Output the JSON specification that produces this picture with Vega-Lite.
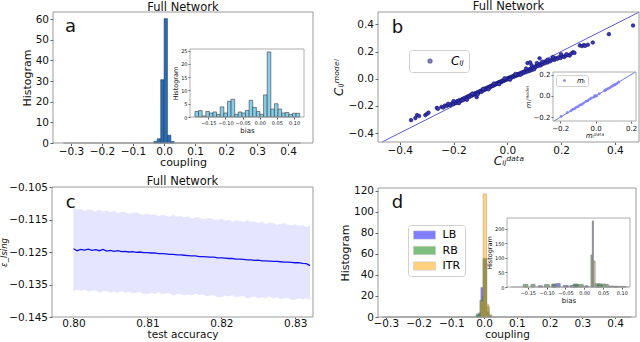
{
"$schema": "https://vega.github.io/schema/vega-lite/v6.json",
"width": 640, "height": 342, "autosize": {"type": "none"}, "padding": 0,
"config": {"font": "DejaVu Sans", "view": {"stroke": null},
  "axis": {"domain": false, "grid": false, "labelFlush": false, "labelOverlap": false, "labelBound": false, "tickColor": "#333", "tickWidth": 0.8, "labelColor": "#111", "titleColor": "#111", "titleFontWeight": "normal", "labelFont": "DejaVu Sans", "titleFont": "DejaVu Sans"},
  "legend": {"labelFont": "DejaVu Sans"}},
"datasets": {
"a_main": [{"x0":-0.033,"x1":-0.022,"n":0.8},{"x0":-0.022,"x1":-0.011,"n":2.1},{"x0":-0.011,"x1":0.0,"n":30.7},{"x0":0.0,"x1":0.011,"n":60.3},{"x0":0.011,"x1":0.022,"n":3.8},{"x0":0.022,"x1":0.033,"n":0.7}],
"a_bias": [{"b0":-0.1890,"b1":-0.1785,"n":2.1},{"b0":-0.1785,"b1":-0.1679,"n":2.4},{"b0":-0.1679,"b1":-0.1574,"n":0.4},{"b0":-0.1574,"b1":-0.1469,"n":2.1},{"b0":-0.1469,"b1":-0.1363,"n":1.5},{"b0":-0.1363,"b1":-0.1258,"n":1.9},{"b0":-0.1258,"b1":-0.1153,"n":1.0},{"b0":-0.1153,"b1":-0.1047,"n":3.8},{"b0":-0.1047,"b1":-0.0942,"n":1.5},{"b0":-0.0942,"b1":-0.0837,"n":5.9},{"b0":-0.0837,"b1":-0.0731,"n":6.7},{"b0":-0.0731,"b1":-0.0626,"n":1.0},{"b0":-0.0626,"b1":-0.0521,"n":1.9},{"b0":-0.0521,"b1":-0.0415,"n":1.5},{"b0":-0.0415,"b1":-0.0310,"n":2.5},{"b0":-0.0310,"b1":-0.0205,"n":6.3},{"b0":-0.0205,"b1":-0.0099,"n":3.6},{"b0":-0.0099,"b1":0.0006,"n":2.1},{"b0":0.0006,"b1":0.0111,"n":1.0},{"b0":0.0111,"b1":0.0217,"n":8.3},{"b0":0.0217,"b1":0.0322,"n":24.5},{"b0":0.0322,"b1":0.0427,"n":3.0},{"b0":0.0427,"b1":0.0533,"n":5.0},{"b0":0.0533,"b1":0.0638,"n":3.0},{"b0":0.0638,"b1":0.0743,"n":1.5},{"b0":0.0743,"b1":0.0849,"n":1.7},{"b0":0.0849,"b1":0.0954,"n":1.0},{"b0":0.0954,"b1":0.1059,"n":1.4},{"b0":0.1059,"b1":0.1165,"n":1.4}],
"b_diag": [{"v":-0.466},{"v":0.491}],
"b_c": [{"d":-0.358,"m":-0.305},{"d":-0.342,"m":-0.29},{"d":-0.336,"m":-0.268},{"d":-0.328,"m":-0.275},{"d":-0.305,"m":-0.268},{"d":-0.298,"m":-0.258},{"d":-0.293,"m":-0.25},{"d":-0.262,"m":-0.215},{"d":-0.258,"m":-0.222},{"d":-0.245,"m":-0.208},{"d":-0.238,"m":-0.212},{"d":-0.232,"m":-0.198},{"d":-0.225,"m":-0.2},{"d":-0.218,"m":-0.19},{"d":-0.212,"m":-0.196},{"d":-0.205,"m":-0.18},{"d":-0.2,"m":-0.186},{"d":-0.196,"m":-0.172},{"d":-0.19,"m":-0.178},{"d":-0.186,"m":-0.165},{"d":-0.182,"m":-0.17},{"d":-0.178,"m":-0.158},{"d":-0.172,"m":-0.163},{"d":-0.168,"m":-0.15},{"d":-0.165,"m":-0.158},{"d":-0.16,"m":-0.142},{"d":-0.155,"m":-0.15},{"d":-0.152,"m":-0.136},{"d":-0.148,"m":-0.14},{"d":-0.145,"m":-0.128},{"d":-0.14,"m":-0.133},{"d":-0.137,"m":-0.12},{"d":-0.132,"m":-0.125},{"d":-0.128,"m":-0.113},{"d":-0.125,"m":-0.118},{"d":-0.121,"m":-0.108},{"d":-0.118,"m":-0.112},{"d":-0.114,"m":-0.136},{"d":-0.112,"m":-0.1},{"d":-0.108,"m":-0.105},{"d":-0.104,"m":-0.094},{"d":-0.1,"m":-0.09},{"d":-0.097,"m":-0.098},{"d":-0.093,"m":-0.084},{"d":-0.09,"m":-0.088},{"d":-0.086,"m":-0.076},{"d":-0.083,"m":-0.081},{"d":-0.08,"m":-0.07},{"d":-0.076,"m":-0.075},{"d":-0.073,"m":-0.064},{"d":-0.07,"m":-0.068},{"d":-0.066,"m":-0.058},{"d":-0.063,"m":-0.062},{"d":-0.06,"m":-0.052},{"d":-0.056,"m":-0.055},{"d":-0.053,"m":-0.046},{"d":-0.05,"m":-0.05},{"d":-0.047,"m":-0.04},{"d":-0.044,"m":-0.043},{"d":-0.041,"m":-0.035},{"d":-0.038,"m":-0.038},{"d":-0.035,"m":-0.03},{"d":-0.032,"m":-0.033},{"d":-0.03,"m":-0.025},{"d":-0.027,"m":-0.028},{"d":-0.024,"m":-0.02},{"d":-0.021,"m":-0.023},{"d":-0.018,"m":-0.015},{"d":-0.015,"m":-0.018},{"d":-0.012,"m":-0.01},{"d":-0.01,"m":-0.012},{"d":-0.007,"m":-0.005},{"d":-0.004,"m":-0.008},{"d":-0.002,"m":0.0},{"d":0.0,"m":-0.003},{"d":0.003,"m":0.004},{"d":0.005,"m":0.0},{"d":0.008,"m":0.008},{"d":0.01,"m":0.004},{"d":0.013,"m":0.012},{"d":0.016,"m":0.008},{"d":0.019,"m":0.017},{"d":0.022,"m":0.013},{"d":0.025,"m":0.022},{"d":0.028,"m":0.018},{"d":0.031,"m":0.027},{"d":0.034,"m":0.022},{"d":0.037,"m":0.032},{"d":0.04,"m":0.027},{"d":0.043,"m":0.036},{"d":0.046,"m":0.031},{"d":0.05,"m":0.042},{"d":0.053,"m":0.036},{"d":0.057,"m":0.048},{"d":0.06,"m":0.042},{"d":0.064,"m":0.054},{"d":0.068,"m":0.047},{"d":0.072,"m":0.06},{"d":0.076,"m":0.053},{"d":0.08,"m":0.066},{"d":0.084,"m":0.058},{"d":0.088,"m":0.072},{"d":0.092,"m":0.064},{"d":0.096,"m":0.078},{"d":0.1,"m":0.07},{"d":0.104,"m":0.085},{"d":0.108,"m":0.09},{"d":0.112,"m":0.1},{"d":0.115,"m":0.094},{"d":0.12,"m":0.105},{"d":0.124,"m":0.098},{"d":0.128,"m":0.112},{"d":0.132,"m":0.108},{"d":0.136,"m":0.12},{"d":0.14,"m":0.114},{"d":0.145,"m":0.128},{"d":0.15,"m":0.12},{"d":0.155,"m":0.135},{"d":0.16,"m":0.128},{"d":0.165,"m":0.14},{"d":0.17,"m":0.148},{"d":0.175,"m":0.138},{"d":0.18,"m":0.152},{"d":0.186,"m":0.146},{"d":0.192,"m":0.158},{"d":0.198,"m":0.152},{"d":0.205,"m":0.165},{"d":0.212,"m":0.16},{"d":0.218,"m":0.17},{"d":0.225,"m":0.175},{"d":0.232,"m":0.17},{"d":0.238,"m":0.185},{"d":0.245,"m":0.195},{"d":0.25,"m":0.19},{"d":0.27,"m":0.245},{"d":0.278,"m":0.24},{"d":0.285,"m":0.248},{"d":0.29,"m":0.242},{"d":0.3,"m":0.25},{"d":0.318,"m":0.266},{"d":0.378,"m":0.328},{"d":0.468,"m":0.392},{"d":-0.15,"m":-0.155},{"d":-0.13,"m":-0.11},{"d":-0.11,"m":-0.115},{"d":-0.09,"m":-0.075},{"d":-0.07,"m":-0.078},{"d":-0.05,"m":-0.035},{"d":-0.03,"m":-0.04},{"d":-0.01,"m":0.003},{"d":0.01,"m":-0.008},{"d":0.03,"m":0.035},{"d":0.05,"m":0.03},{"d":0.07,"m":0.075},{"d":0.09,"m":0.1},{"d":0.11,"m":0.115},{"d":0.13,"m":0.125},{"d":0.15,"m":0.14},{"d":0.17,"m":0.16},{"d":0.2,"m":0.18},{"d":0.22,"m":0.18},{"d":-0.18,"m":-0.18},{"d":-0.2,"m":-0.165},{"d":-0.22,"m":-0.185},{"d":0.075,"m":0.115},{"d":0.085,"m":0.12},{"d":0.12,"m":0.15}],
"b_mdiag": [{"v":-0.235},{"v":0.225}],
"b_m": [{"d":-0.195,"m":-0.19},{"d":-0.16,"m":-0.155},{"d":-0.14,"m":-0.138},{"d":-0.13,"m":-0.125},{"d":-0.12,"m":-0.12},{"d":-0.11,"m":-0.105},{"d":-0.1,"m":-0.098},{"d":-0.09,"m":-0.085},{"d":-0.08,"m":-0.08},{"d":-0.07,"m":-0.068},{"d":-0.055,"m":-0.05},{"d":-0.045,"m":-0.045},{"d":-0.035,"m":-0.03},{"d":-0.025,"m":-0.02},{"d":-0.01,"m":-0.01},{"d":0.0,"m":0.0},{"d":0.005,"m":0.003},{"d":-0.005,"m":0.002},{"d":0.02,"m":0.02},{"d":0.05,"m":0.05},{"d":0.055,"m":0.055},{"d":0.06,"m":0.06},{"d":0.07,"m":0.07},{"d":0.08,"m":0.078},{"d":0.09,"m":0.09},{"d":0.1,"m":0.1},{"d":0.105,"m":0.102},{"d":0.11,"m":0.108},{"d":0.12,"m":0.118},{"d":0.13,"m":0.13}],
"c": [{"acc":0.8000,"e":-0.1240,"hi":-0.1114,"lo":-0.1371},{"acc":0.8005,"e":-0.1246,"hi":-0.1120,"lo":-0.1366},{"acc":0.8010,"e":-0.1242,"hi":-0.1118,"lo":-0.1370},{"acc":0.8015,"e":-0.1244,"hi":-0.1124,"lo":-0.1365},{"acc":0.8020,"e":-0.1241,"hi":-0.1118,"lo":-0.1372},{"acc":0.8025,"e":-0.1245,"hi":-0.1121,"lo":-0.1369},{"acc":0.8030,"e":-0.1243,"hi":-0.1125,"lo":-0.1368},{"acc":0.8035,"e":-0.1246,"hi":-0.1119,"lo":-0.1375},{"acc":0.8040,"e":-0.1242,"hi":-0.1125,"lo":-0.1371},{"acc":0.8045,"e":-0.1247,"hi":-0.1122,"lo":-0.1370},{"acc":0.8050,"e":-0.1245,"hi":-0.1127,"lo":-0.1375},{"acc":0.8055,"e":-0.1248,"hi":-0.1123,"lo":-0.1372},{"acc":0.8060,"e":-0.1246,"hi":-0.1131,"lo":-0.1375},{"acc":0.8065,"e":-0.1249,"hi":-0.1127,"lo":-0.1370},{"acc":0.8070,"e":-0.1248,"hi":-0.1127,"lo":-0.1375},{"acc":0.8075,"e":-0.1250,"hi":-0.1132,"lo":-0.1372},{"acc":0.8080,"e":-0.1249,"hi":-0.1130,"lo":-0.1377},{"acc":0.8085,"e":-0.1251,"hi":-0.1128,"lo":-0.1375},{"acc":0.8090,"e":-0.1250,"hi":-0.1133,"lo":-0.1374},{"acc":0.8095,"e":-0.1252,"hi":-0.1135,"lo":-0.1380},{"acc":0.8100,"e":-0.1252,"hi":-0.1131,"lo":-0.1380},{"acc":0.8105,"e":-0.1253,"hi":-0.1136,"lo":-0.1375},{"acc":0.8110,"e":-0.1253,"hi":-0.1134,"lo":-0.1379},{"acc":0.8115,"e":-0.1255,"hi":-0.1140,"lo":-0.1374},{"acc":0.8120,"e":-0.1255,"hi":-0.1135,"lo":-0.1381},{"acc":0.8125,"e":-0.1256,"hi":-0.1138,"lo":-0.1378},{"acc":0.8130,"e":-0.1257,"hi":-0.1142,"lo":-0.1376},{"acc":0.8135,"e":-0.1257,"hi":-0.1135,"lo":-0.1384},{"acc":0.8140,"e":-0.1259,"hi":-0.1141,"lo":-0.1380},{"acc":0.8145,"e":-0.1259,"hi":-0.1139,"lo":-0.1379},{"acc":0.8150,"e":-0.1260,"hi":-0.1144,"lo":-0.1384},{"acc":0.8155,"e":-0.1261,"hi":-0.1140,"lo":-0.1381},{"acc":0.8160,"e":-0.1262,"hi":-0.1148,"lo":-0.1384},{"acc":0.8165,"e":-0.1262,"hi":-0.1143,"lo":-0.1378},{"acc":0.8170,"e":-0.1264,"hi":-0.1143,"lo":-0.1384},{"acc":0.8175,"e":-0.1264,"hi":-0.1149,"lo":-0.1380},{"acc":0.8180,"e":-0.1265,"hi":-0.1147,"lo":-0.1386},{"acc":0.8185,"e":-0.1266,"hi":-0.1145,"lo":-0.1384},{"acc":0.8190,"e":-0.1266,"hi":-0.1150,"lo":-0.1383},{"acc":0.8195,"e":-0.1268,"hi":-0.1151,"lo":-0.1389},{"acc":0.8200,"e":-0.1268,"hi":-0.1147,"lo":-0.1389},{"acc":0.8205,"e":-0.1269,"hi":-0.1153,"lo":-0.1384},{"acc":0.8210,"e":-0.1270,"hi":-0.1151,"lo":-0.1387},{"acc":0.8215,"e":-0.1270,"hi":-0.1157,"lo":-0.1383},{"acc":0.8220,"e":-0.1272,"hi":-0.1152,"lo":-0.1389},{"acc":0.8225,"e":-0.1272,"hi":-0.1154,"lo":-0.1387},{"acc":0.8230,"e":-0.1273,"hi":-0.1158,"lo":-0.1385},{"acc":0.8235,"e":-0.1274,"hi":-0.1152,"lo":-0.1393},{"acc":0.8240,"e":-0.1274,"hi":-0.1158,"lo":-0.1389},{"acc":0.8245,"e":-0.1276,"hi":-0.1156,"lo":-0.1387},{"acc":0.8250,"e":-0.1275,"hi":-0.1161,"lo":-0.1393},{"acc":0.8255,"e":-0.1277,"hi":-0.1156,"lo":-0.1389},{"acc":0.8260,"e":-0.1277,"hi":-0.1164,"lo":-0.1393},{"acc":0.8265,"e":-0.1278,"hi":-0.1160,"lo":-0.1387},{"acc":0.8270,"e":-0.1279,"hi":-0.1160,"lo":-0.1393},{"acc":0.8275,"e":-0.1279,"hi":-0.1166,"lo":-0.1389},{"acc":0.8280,"e":-0.1280,"hi":-0.1164,"lo":-0.1395},{"acc":0.8285,"e":-0.1281,"hi":-0.1161,"lo":-0.1393},{"acc":0.8290,"e":-0.1281,"hi":-0.1166,"lo":-0.1391},{"acc":0.8295,"e":-0.1282,"hi":-0.1168,"lo":-0.1398},{"acc":0.8300,"e":-0.1283,"hi":-0.1164,"lo":-0.1397},{"acc":0.8305,"e":-0.1283,"hi":-0.1170,"lo":-0.1393},{"acc":0.8310,"e":-0.1285,"hi":-0.1167,"lo":-0.1396},{"acc":0.8315,"e":-0.1286,"hi":-0.1173,"lo":-0.1392},{"acc":0.8320,"e":-0.1292,"hi":-0.1168,"lo":-0.1398}],
"d_main": [{"s":"LB","x0":-0.024,"x1":-0.017,"n":1.5},{"s":"LB","x0":-0.017,"x1":-0.010,"n":4},{"s":"LB","x0":-0.010,"x1":-0.003,"n":28},{"s":"LB","x0":-0.003,"x1":0.008,"n":55},{"s":"LB","x0":0.008,"x1":0.015,"n":5},{"s":"LB","x0":0.015,"x1":0.022,"n":1},
  {"s":"RB","x0":-0.024,"x1":-0.013,"n":3},{"s":"RB","x0":-0.013,"x1":-0.006,"n":16},{"s":"RB","x0":-0.006,"x1":-0.003,"n":20},{"s":"RB","x0":-0.003,"x1":0.008,"n":56},{"s":"RB","x0":0.008,"x1":0.016,"n":10},{"s":"RB","x0":0.016,"x1":0.024,"n":2},
  {"s":"ITR","x0":-0.010,"x1":-0.003,"n":15},{"s":"ITR","x0":-0.003,"x1":0.008,"n":117},{"s":"ITR","x0":0.008,"x1":0.015,"n":12},{"s":"ITR","x0":0.015,"x1":0.020,"n":2}],
"d_bias": [{"s":"LB","x0":0.0216,"x1":0.0243,"n":227},{"s":"LB","x0":-0.122,"x1":-0.111,"n":4},{"s":"LB","x0":-0.086,"x1":-0.075,"n":9},{"s":"LB","x0":-0.075,"x1":-0.064,"n":11.5},{"s":"LB","x0":-0.0555,"x1":-0.0425,"n":5},{"s":"LB","x0":-0.038,"x1":-0.029,"n":5},{"s":"LB","x0":-0.029,"x1":-0.016,"n":8},{"s":"LB","x0":0.0017,"x1":0.0106,"n":4},{"s":"LB","x0":0.035,"x1":0.048,"n":8},{"s":"LB","x0":0.064,"x1":0.08,"n":3},{"s":"LB","x0":0.08,"x1":0.1,"n":2},
  {"s":"RB","x0":0.0181,"x1":0.0216,"n":110},{"s":"RB","x0":-0.162,"x1":-0.150,"n":9},{"s":"RB","x0":-0.1415,"x1":-0.131,"n":9},{"s":"RB","x0":-0.106,"x1":-0.093,"n":8},{"s":"RB","x0":-0.086,"x1":-0.075,"n":10},{"s":"RB","x0":-0.029,"x1":-0.016,"n":10},{"s":"RB","x0":-0.016,"x1":-0.0025,"n":8},{"s":"RB","x0":0.0287,"x1":0.042,"n":11},{"s":"RB","x0":0.042,"x1":0.056,"n":10},{"s":"RB","x0":0.056,"x1":0.064,"n":9},{"s":"RB","x0":0.08,"x1":0.09,"n":2},{"s":"RB","x0":0.1,"x1":0.11,"n":2},
  {"s":"ITR","x0":0.0243,"x1":0.0287,"n":89}]
},
"layer": [
 {"layer": [
  {"data": {"values": [{}]}, "mark": {"type": "rule", "color": "#aaaaaa", "strokeWidth": 1.5}, "encoding": {"x": {"datum": -0.325}, "x2": {"datum": 0.44}, "y": {"datum": 0}}},
  {"data": {"name": "a_main"}, "mark": {"type": "bar", "fill": "#2b6cb0", "stroke": "#1b3a60", "strokeWidth": 0.5},
   "encoding": {
    "x": {"field": "x0", "type": "quantitative", "scale": {"domain": [-0.358, 0.48], "range": [53, 313], "nice": false, "zero": false}, "axis": {"orient": "bottom", "offset": -199, "values": [-0.3,-0.2,-0.1,0,0.1,0.2,0.3,0.4], "format": ".1f", "title": "coupling", "labelFontSize": 10.5, "titleFontSize": 11, "tickSize": 2.5, "labelPadding": 0.5, "titlePadding": 0}},
    "x2": {"field": "x1"},
    "y": {"field": "n", "type": "quantitative", "scale": {"domain": [0, 63.5], "range": [143, 12], "nice": false, "zero": false}, "axis": {"orient": "left", "offset": -53, "values": [0,10,20,30,40,50,60], "format": "d", "title": "Histogram", "labelFontSize": 10.5, "titleFontSize": 11, "tickSize": 3, "labelPadding": 1.5, "titlePadding": 3}},
    "y2": {"datum": 0}}},
  {"data": {"values": [{}]}, "mark": {"type": "rect", "fillOpacity": 0, "stroke": "#9a9a9a", "strokeWidth": 1}, "encoding": {"x": {"datum": -0.358}, "x2": {"datum": 0.48}, "y": {"datum": 0}, "y2": {"datum": 63.5}}},
  {"data": {"values": [{}]}, "mark": {"type": "text", "text": "Full Network", "fontSize": 11.5, "baseline": "alphabetic", "align": "center", "color": "#111"}, "encoding": {"x": {"datum": 0.061}, "y": {"datum": 64.2}}},
  {"data": {"values": [{}]}, "mark": {"type": "text", "text": "a", "fontSize": 18, "baseline": "alphabetic", "align": "left", "color": "#111"}, "encoding": {"x": {"datum": -0.3193}, "y": {"datum": 53.7}}}
 ]},
 {"layer": [
  {"data": {"name": "a_bias"}, "mark": {"type": "bar", "fill": "#87ceeb", "stroke": "#3a3a3a", "strokeWidth": 0.6},
   "encoding": {
    "x": {"field": "b0", "type": "quantitative", "scale": {"domain": [-0.2034, 0.129], "range": [190, 304], "nice": false, "zero": false}, "axis": {"orient": "bottom", "offset": -225, "values": [-0.15,-0.1,-0.05,0,0.05,0.1], "format": ".2f", "title": "bias", "labelFontSize": 5, "titleFontSize": 7, "tickSize": 2, "labelPadding": 1, "titlePadding": 1}},
    "x2": {"field": "b1"},
    "y": {"field": "n", "type": "quantitative", "scale": {"domain": [0, 25.6], "range": [117, 49], "nice": false, "zero": false}, "axis": {"orient": "left", "offset": -190, "values": [0,5,10,15,20,25], "format": "d", "title": "Histogram", "labelFontSize": 5, "titleFontSize": 6.5, "tickSize": 2, "labelPadding": 1, "titlePadding": 2}},
    "y2": {"datum": 0}}},
  {"data": {"values": [{}]}, "mark": {"type": "rect", "fillOpacity": 0, "stroke": "#9a9a9a", "strokeWidth": 0.8}, "encoding": {"x": {"datum": -0.2034}, "x2": {"datum": 0.129}, "y": {"datum": 0}, "y2": {"datum": 25.6}}}
 ]},
 {"layer": [
  {"data": {"name": "b_diag"}, "mark": {"type": "line", "color": "#5a5ad6", "strokeWidth": 1},
   "encoding": {"x": {"field": "v", "type": "quantitative", "scale": {"domain": [-0.481, 0.49], "range": [378, 639], "nice": false, "zero": false}}, "y": {"field": "v", "type": "quantitative", "scale": {"domain": [-0.466, 0.491], "range": [142, 12], "nice": false, "zero": false}}}},
  {"data": {"name": "b_c"}, "mark": {"type": "circle", "size": 13, "stroke": "#10106a", "strokeWidth": 0.6, "opacity": 1},
   "encoding": {
    "x": {"field": "d", "type": "quantitative", "scale": {"domain": [-0.481, 0.49], "range": [378, 639], "nice": false, "zero": false}, "axis": {"orient": "bottom", "offset": -200, "values": [-0.4,-0.2,0,0.2,0.4], "format": ".1f", "title": "Cᵢⱼᵈᵃᵗᵃ", "titleFontStyle": "italic", "labelFontSize": 10.5, "titleFontSize": 12, "tickSize": 2.5, "labelPadding": 0.5, "titlePadding": 0}},
    "y": {"field": "m", "type": "quantitative", "scale": {"domain": [-0.466, 0.491], "range": [142, 12], "nice": false, "zero": false}, "axis": {"orient": "left", "offset": -378, "values": [-0.4,-0.2,0,0.2,0.4], "format": ".1f", "title": "Cᵢⱼᵐᵒᵈᵉˡ", "titleFontStyle": "italic", "labelFontSize": 10.5, "titleFontSize": 12, "tickSize": 3, "labelPadding": 1.5, "titlePadding": 3}},
    "color": {"datum": "Cᵢⱼ", "scale": {"range": ["#3838b8"]}, "legend": {"orient": "none", "legendX": 409, "legendY": 50, "title": null, "padding": 5, "fillColor": "white", "strokeColor": "#d0d0d0", "cornerRadius": 3, "symbolType": "circle", "symbolSize": 14, "symbolOpacity": 0.6, "symbolOffset": 10, "labelFontStyle": "italic", "labelFontSize": 12, "labelOffset": 15}}}},
  {"data": {"values": [{}]}, "mark": {"type": "rect", "fillOpacity": 0, "stroke": "#9a9a9a", "strokeWidth": 1}, "encoding": {"x": {"datum": -0.481}, "x2": {"datum": 0.49}, "y": {"datum": -0.466}, "y2": {"datum": 0.491}}},
  {"data": {"values": [{}]}, "mark": {"type": "text", "text": "Full Network", "fontSize": 11.5, "baseline": "alphabetic", "align": "center", "color": "#111"}, "encoding": {"x": {"datum": 0.0045}, "y": {"datum": 0.503}}},
  {"data": {"values": [{}]}, "mark": {"type": "text", "text": "b", "fontSize": 18, "baseline": "alphabetic", "align": "left", "color": "#111"}, "encoding": {"x": {"datum": -0.43}, "y": {"datum": 0.334}}}
 ]},
 {"layer": [
  {"data": {"name": "b_mdiag"}, "mark": {"type": "line", "color": "#6a80e6", "strokeWidth": 1},
   "encoding": {"x": {"field": "v", "type": "quantitative", "scale": {"domain": [-0.241, 0.228], "range": [553, 636], "nice": false, "zero": false}}, "y": {"field": "v", "type": "quantitative", "scale": {"domain": [-0.235, 0.225], "range": [121, 72], "nice": false, "zero": false}}}},
  {"data": {"name": "b_m"}, "mark": {"type": "circle", "size": 9, "opacity": 0.85},
   "encoding": {
    "x": {"field": "d", "type": "quantitative", "scale": {"domain": [-0.241, 0.228], "range": [553, 636], "nice": false, "zero": false}, "axis": {"orient": "bottom", "offset": -221, "values": [-0.2,0,0.2], "format": ".1f", "title": "mᵢᵈᵃᵗᵃ", "titleFontStyle": "italic", "labelFontSize": 7, "titleFontSize": 7, "tickSize": 2, "labelPadding": 1, "titlePadding": 0}},
    "y": {"field": "m", "type": "quantitative", "scale": {"domain": [-0.235, 0.225], "range": [121, 72], "nice": false, "zero": false}, "axis": {"orient": "left", "offset": -553, "values": [-0.2,0,0.2], "format": ".1f", "title": "mᵢᵐᵒᵈᵉˡ", "titleFontStyle": "italic", "labelFontSize": 7, "titleFontSize": 7, "tickSize": 2, "labelPadding": 1, "titlePadding": 2}},
    "color": {"datum": "mᵢ", "scale": {"range": ["#7f7ff5"]}, "legend": {"orient": "none", "legendX": 556, "legendY": 75, "title": null, "padding": 2, "fillColor": "white", "strokeColor": "#d0d0d0", "cornerRadius": 2, "symbolType": "circle", "symbolSize": 9, "symbolOffset": 3, "labelFontStyle": "italic", "labelFontSize": 7, "labelOffset": 9}}}},
  {"data": {"values": [{}]}, "mark": {"type": "rect", "fillOpacity": 0, "stroke": "#9a9a9a", "strokeWidth": 0.8}, "encoding": {"x": {"datum": -0.241}, "x2": {"datum": 0.228}, "y": {"datum": -0.235}, "y2": {"datum": 0.225}}}
 ]},
 {"layer": [
  {"data": {"name": "c"}, "mark": {"type": "area", "color": "#0000ff", "opacity": 0.1},
   "encoding": {
    "x": {"field": "acc", "type": "quantitative", "scale": {"domain": [0.7971, 0.8324], "range": [52, 313], "nice": false, "zero": false}, "axis": {"orient": "bottom", "offset": -25, "values": [0.8,0.81,0.82,0.83], "format": ".2f", "title": "test accuracy", "labelFontSize": 10.5, "titleFontSize": 10.5, "tickSize": 1.5, "labelPadding": 0, "titlePadding": 0}},
    "y": {"field": "lo", "type": "quantitative", "scale": {"domain": [-0.145, -0.105], "range": [317, 187], "nice": false, "zero": false}, "axis": {"orient": "left", "offset": -52, "values": [-0.145,-0.135,-0.125,-0.115,-0.105], "format": ".3f", "title": "ε_Ising", "titleFontStyle": "italic", "labelFontSize": 10.5, "titleFontSize": 8.5, "tickSize": 3, "labelPadding": 1.5, "titlePadding": 0}},
    "y2": {"field": "hi"}}},
  {"data": {"name": "c"}, "mark": {"type": "line", "color": "#1010ee", "strokeWidth": 1.3},
   "encoding": {"x": {"field": "acc", "type": "quantitative"}, "y": {"field": "e", "type": "quantitative"}}},
  {"data": {"values": [{}]}, "mark": {"type": "rect", "fillOpacity": 0, "stroke": "#9a9a9a", "strokeWidth": 1}, "encoding": {"x": {"datum": 0.7971}, "x2": {"datum": 0.8324}, "y": {"datum": -0.145}, "y2": {"datum": -0.105}}},
  {"data": {"values": [{}]}, "mark": {"type": "text", "text": "Full Network", "fontSize": 11.5, "baseline": "alphabetic", "align": "center", "color": "#111"}, "encoding": {"x": {"datum": 0.81475}, "y": {"datum": -0.1044}}},
  {"data": {"values": [{}]}, "mark": {"type": "text", "text": "c", "fontSize": 18, "baseline": "alphabetic", "align": "left", "color": "#111"}, "encoding": {"x": {"datum": 0.79895}, "y": {"datum": -0.11137}}}
 ]},
 {"layer": [
  {"data": {"values": [{}]}, "mark": {"type": "rule", "color": "#aaaaaa", "strokeWidth": 1.5}, "encoding": {"x": {"datum": -0.31}, "x2": {"datum": 0.45}, "y": {"datum": 0}}},
  {"data": {"name": "d_main"}, "mark": {"type": "bar", "fillOpacity": 0.5, "stroke": "#808080", "strokeWidth": 0.5, "strokeOpacity": 0.7},
   "encoding": {
    "x": {"field": "x0", "type": "quantitative", "scale": {"domain": [-0.3239, 0.464], "range": [378, 636], "nice": false, "zero": false}, "axis": {"orient": "bottom", "offset": -25, "values": [-0.3,-0.2,-0.1,0,0.1,0.2,0.3,0.4], "format": ".1f", "title": "coupling", "labelFontSize": 10.5, "titleFontSize": 10.5, "tickSize": 1.5, "labelPadding": 0, "titlePadding": 0}},
    "x2": {"field": "x1"},
    "y": {"field": "n", "type": "quantitative", "scale": {"domain": [0, 122.5], "range": [317, 188], "nice": false, "zero": false}, "axis": {"orient": "left", "offset": -378, "values": [0,20,40,60,80,100,120], "format": "d", "title": "Histogram", "labelFontSize": 10.5, "titleFontSize": 11, "tickSize": 3, "labelPadding": 1.5, "titlePadding": 3}},
    "y2": {"datum": 0},
    "color": {"field": "s", "type": "nominal", "sort": null, "scale": {"domain": ["LB","RB","ITR"], "range": ["#0000ff","#008000","#ffa500"]}, "legend": {"orient": "none", "legendX": 408, "legendY": 225, "title": null, "padding": 4, "fillColor": "white", "strokeColor": "#d0d0d0", "cornerRadius": 3, "symbolType": "M-2,-0.75H2V0.75H-2Z", "symbolSize": 121, "symbolOpacity": 0.5, "symbolStrokeColor": "#888", "symbolStrokeWidth": 0.5, "symbolOffset": 6.5, "labelFontSize": 11, "labelOffset": 12, "rowPadding": 3.5}}}},
  {"data": {"values": [{}]}, "mark": {"type": "rect", "fillOpacity": 0, "stroke": "#9a9a9a", "strokeWidth": 1}, "encoding": {"x": {"datum": -0.3239}, "x2": {"datum": 0.464}, "y": {"datum": 0}, "y2": {"datum": 122.5}}},
  {"data": {"values": [{}]}, "mark": {"type": "text", "text": "d", "fontSize": 18, "baseline": "alphabetic", "align": "left", "color": "#111"}, "encoding": {"x": {"datum": -0.282}, "y": {"datum": 103.8}}}
 ]},
 {"layer": [
  {"data": {"values": [{}]}, "mark": {"type": "rule", "color": "#aaaaaa", "strokeWidth": 1.2}, "encoding": {"x": {"datum": -0.195}, "x2": {"datum": 0.118}, "y": {"datum": 0}}},
  {"data": {"name": "d_bias"}, "mark": {"type": "bar", "fillOpacity": 0.5, "stroke": "#8a8a8a", "strokeWidth": 0.9, "strokeOpacity": 1},
   "encoding": {
    "x": {"field": "x0", "type": "quantitative", "scale": {"domain": [-0.2054, 0.1218], "range": [507, 630], "nice": false, "zero": false}, "axis": {"orient": "bottom", "offset": -55, "values": [-0.15,-0.1,-0.05,0,0.05,0.1], "format": ".2f", "title": "bias", "labelFontSize": 5, "titleFontSize": 7, "tickSize": 2, "labelPadding": 1, "titlePadding": 1}},
    "x2": {"field": "x1"},
    "y": {"field": "n", "type": "quantitative", "scale": {"domain": [0, 237], "range": [287, 218], "nice": false, "zero": false}, "axis": {"orient": "left", "offset": -507, "values": [0,50,100,150,200], "format": "d", "title": "Histogram", "labelFontSize": 5, "titleFontSize": 6.5, "tickSize": 2, "labelPadding": 1, "titlePadding": 2}},
    "y2": {"datum": 0},
    "color": {"field": "s", "type": "nominal", "scale": {"domain": ["LB","RB","ITR"], "range": ["#0000ff","#008000","#ffa500"]}, "legend": null}}},
  {"data": {"values": [{}]}, "mark": {"type": "rect", "fillOpacity": 0, "stroke": "#9a9a9a", "strokeWidth": 0.8}, "encoding": {"x": {"datum": -0.2054}, "x2": {"datum": 0.1218}, "y": {"datum": 0}, "y2": {"datum": 237}}}
 ]}
],
"resolve": {"scale": {"x": "independent", "y": "independent", "color": "independent"}}
}
